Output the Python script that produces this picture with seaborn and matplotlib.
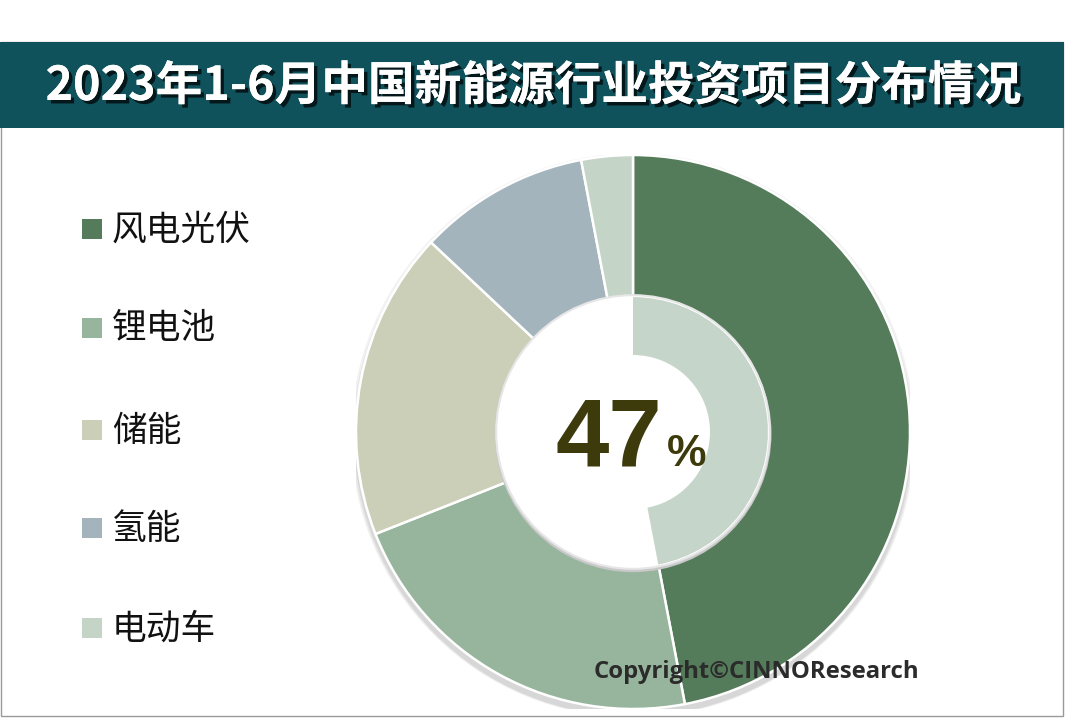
import matplotlib
matplotlib.use("Agg")
import matplotlib.pyplot as plt
import matplotlib.patheffects as pe
from matplotlib.patches import Rectangle, Circle
import seaborn as sns

# ---- data ----
categories = ["风电光伏", "锂电池", "储能", "氢能", "电动车"]
shares = [47, 22, 18, 10, 3]
colors = ["#557c5a", "#97b59d", "#cbcfb8", "#a3b4bc", "#c4d4c7"]
highlight_value = 47
title = "2023年1-6月中国新能源行业投资项目分布情况"
copyright_text = "Copyright©CINNOResearch"

sns.set_theme(style="white")
plt.rcParams["font.family"] = ["Noto Sans CJK SC", "DejaVu Sans"]

W, H = 1066, 720
fig = plt.figure(figsize=(W / 100, H / 100), dpi=100)
fig.patch.set_facecolor("white")

def fx(px):
    return px / W

def fy(py):
    return 1 - py / H

# frame border
fig.add_artist(Rectangle((fx(1), fy(716)), fx(1062), (716 - 42) / H, transform=fig.transFigure,
                         facecolor="none", edgecolor="#9a9a9a", lw=1.0))
# title banner
fig.add_artist(Rectangle((fx(0), fy(128)), fx(1064), 86 / H, transform=fig.transFigure,
                         facecolor="#0f525c", edgecolor="none"))
fig.text(fx(533), fy(86), title, ha="center", va="center", color="white",
         fontsize=33.6, fontweight="bold",
         path_effects=[pe.withSimplePatchShadow(offset=(2.5, -2.5), shadow_rgbFace="black", alpha=0.7),
                       pe.Normal()])

# pie axes
cx, cy, R = 633, 432, 277
ax = fig.add_axes([fx(cx - R), fy(cy + R), 2 * R / W, 2 * R / H])
ax.axis("off")

# soft shadow
for i, a in enumerate([0.05, 0.05, 0.06]):
    ax.add_patch(Circle((0.0, -0.012 - 0.004 * i), 1.0 + 0.006 * (3 - i), facecolor="black",
                        alpha=a, edgecolor="none", zorder=0))

ax.pie(shares, colors=colors, startangle=90, counterclock=False, radius=1.0,
       wedgeprops=dict(edgecolor="white", linewidth=1.8), frame=False)

# center white disk with subtle gray edge
ax.add_patch(Circle((0, -0.006), 0.5, facecolor="#c8c8c8", edgecolor="none", zorder=3))
ax.add_patch(Circle((0, 0), 0.494, facecolor="white", edgecolor="#e6e6e6", lw=1.5, zorder=4))

# inner highlight ring
inner = ax.pie([highlight_value, 100 - highlight_value], colors=["#c5d5ca", "none"], startangle=90,
               counterclock=False, radius=0.487, wedgeprops=dict(width=0.487 - 0.278, edgecolor="none"),
               frame=False)
for w in inner[0]:
    w.set_zorder(5)
ax.set_xlim(-1, 1)
ax.set_ylim(-1, 1)
ax.set_aspect("auto")

# center label
ax.text(0.105, -0.035, f"{highlight_value}", ha="right", va="center", fontsize=69,
        fontweight="bold", color="#3d3a0c", family=["Liberation Sans", "DejaVu Sans"], zorder=6)
ax.text(0.122, -0.082, "%", ha="left", va="center", fontsize=32,
        fontweight="bold", color="#3d3a0c", family=["Liberation Sans", "DejaVu Sans"], zorder=6)

# legend
ys = [229, 328, 430, 528, 628]
for lab, col, y in zip(categories, colors, ys):
    fig.add_artist(Rectangle((fx(82), fy(y + 10)), fx(20), 20 / H, transform=fig.transFigure,
                             facecolor=col, edgecolor="none"))
    fig.text(fx(112), fy(y + 1), lab, ha="left", va="center", fontsize=25, color="#111111")

fig.text(fx(756), fy(672), copyright_text, ha="center", va="center", fontsize=17.2,
         fontweight="bold", color="#2b2b2b", family=["Open Sans", "DejaVu Sans"])

fig.savefig("out.png", dpi=100, facecolor="white")
